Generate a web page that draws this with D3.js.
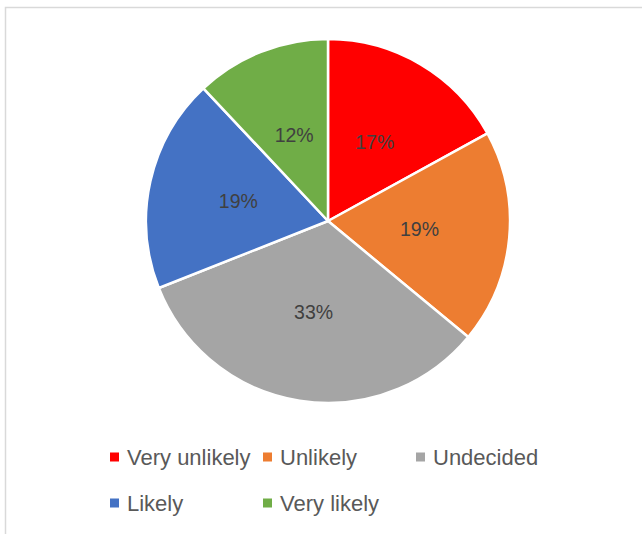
<!DOCTYPE html>
<html>
<head>
<meta charset="utf-8">
<script src="https://cdn.jsdelivr.net/npm/d3@7"></script>
<style>
  html, body { margin: 0; padding: 0; background: #fff; }
  svg { display: block; }
</style>
</head>
<body>
<svg id="chart" width="642" height="534"></svg>
<script>
// Survey answers and their shares (percent)
const categories = ["Very unlikely", "Unlikely", "Undecided", "Likely", "Very likely"];
const shares = [17, 19, 33, 19, 12];
const colors = ["#FF0000", "#ED7D31", "#A5A5A5", "#4472C4", "#70AD47"];

const svg = d3.select("#chart");
const W = 642, H = 534;
const font = "'Liberation Sans', Arial, sans-serif";

// chart area frame
svg.append("rect")
  .attr("x", 5.5).attr("y", 7.5)
  .attr("width", 800).attr("height", 700)
  .attr("fill", "none")
  .attr("stroke", "#d9d9d9")
  .attr("stroke-width", 1.5);

const cx = 328, cy = 221, r = 182;

const pie = d3.pie().sort(null).value(d => d.v).startAngle(0).endAngle(2 * Math.PI);
const data = categories.map((c, i) => ({ c, v: shares[i], color: colors[i] }));
const arcs = pie(data);

const arc = d3.arc().innerRadius(0).outerRadius(r);
const labelArc = d3.arc().innerRadius(r * 0.505).outerRadius(r * 0.505);

const g = svg.append("g").attr("transform", `translate(${cx},${cy})`);

g.selectAll("path.slice")
  .data(arcs)
  .join("path")
  .attr("class", "slice")
  .attr("d", arc)
  .attr("fill", d => d.data.color)
  .attr("stroke", "#ffffff")
  .attr("stroke-width", 2.5)
  .attr("stroke-linejoin", "round");

g.selectAll("text.pct")
  .data(arcs)
  .join("text")
  .attr("class", "pct")
  .attr("transform", d => `translate(${labelArc.centroid(d)})`)
  .attr("text-anchor", "middle")
  .attr("dy", "0.35em")
  .attr("font-family", font)
  .attr("font-size", 19.5)
  .attr("fill", "#404040")
  .text(d => d3.format(".0f")(d.data.v) + "%");

// legend: two rows, three columns
const legX = [110, 263, 416];
const legY = [457, 503];
const leg = svg.append("g");
data.forEach((d, i) => {
  const col = i % 3, row = Math.floor(i / 3);
  const x = legX[col], y = legY[row];
  leg.append("rect")
    .attr("x", x).attr("y", y - 4.5)
    .attr("width", 9).attr("height", 9)
    .attr("fill", d.color);
  leg.append("text")
    .attr("x", x + 17).attr("y", y + 8)
    .attr("font-family", font)
    .attr("font-size", 22)
    .attr("fill", "#595959")
    .text(d.c);
});
</script>
</body>
</html>
